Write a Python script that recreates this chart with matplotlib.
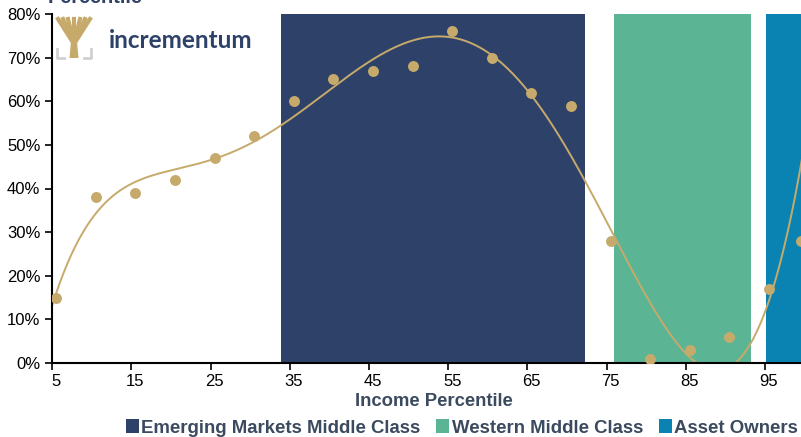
import numpy as np
import matplotlib.pyplot as plt
from matplotlib.patches import Patch, Polygon
from matplotlib.lines import Line2D

plt.rcParams['font.family'] = ['Liberation Sans', 'DejaVu Sans']

percentile = [5, 10, 15, 20, 25, 30, 35, 40, 45, 50, 55, 60, 65, 70, 75, 80, 85, 90, 95, 99]
growth = [15, 38, 39, 42, 47, 52, 60, 65, 67, 68, 76, 70, 62, 59, 28, 1, 3, 6, 17, 28]
# top 1% point lies just beyond the cropped right edge
top_percentile = 100
top_growth = 68

bands = ["Emerging Markets Middle Class", "Western Middle Class", "Asset Owners"]
band_start = [33.4, 75.4, 94.6]
band_end = [71.8, 92.7, 101]
band_colors = ["#2E4169", "#5BB595", "#0A83B3"]

tick_labels = [5, 15, 25, 35, 45, 55, 65, 75, 85, 95]

gold = "#C6AA6B"
navy = "#2E4169"
label_col = "#3B4A5E"

fig = plt.figure(figsize=(8.01, 4.37), dpi=100)
ax = fig.add_axes([52.3 / 801, 1 - 363 / 437, 1 - 52.3 / 801, (363 - 14) / 437])

for s, e, c in zip(band_start, band_end, band_colors):
    ax.axvspan(s, e, color=c, lw=0, zorder=0)

# polynomial trendline (order 6)
x_all = np.array(percentile + [top_percentile], float)
y_all = np.array(growth + [top_growth], float)
trend = np.polynomial.Polynomial.fit(x_all, y_all, 6)
xs = np.linspace(4.5, 100, 400)
ax.plot(xs, trend(xs), color=gold, lw=1.4, zorder=2)

ax.scatter(x_all, y_all, s=62, color=gold, zorder=3, lw=0)

ax.set_xlim(4.5, 99.05)
ax.set_ylim(0, 80)
ax.set_yticks(range(0, 81, 10))
ax.set_yticklabels([f"{v}%" for v in range(0, 81, 10)], fontsize=12)
ax.set_xticks([t - 0.5 for t in tick_labels])
ax.set_xticklabels([])
ax.set_xticks(tick_labels, minor=True)
ax.set_xticklabels([str(t) for t in tick_labels], minor=True, fontsize=12)
ax.tick_params(axis='x', which='minor', length=0, pad=8)
ax.tick_params(axis='both', which='major', length=5, width=1.2, color='black')
for side in ['top', 'right']:
    ax.spines[side].set_visible(False)
for side in ['left', 'bottom']:
    ax.spines[side].set_linewidth(1.5)

fig.text(434 / 801, 1 - 402 / 437, "Income Percentile", ha='center', va='center',
         fontsize=13.3, fontweight='bold', color=label_col)
fig.text(48 / 801, 1 - 3 / 437, "Percentile", ha='left', va='baseline',
         fontsize=14.3, fontweight='bold', color=navy)

handles = [Patch(facecolor=c, edgecolor='none') for c in band_colors]
fig.legend(handles, bands, loc='center', bbox_to_anchor=(462 / 801, 1 - 428 / 437),
           ncol=3, frameon=False, handlelength=0.7, handleheight=0.7,
           handletextpad=0.12, columnspacing=0.85, borderpad=0,
           prop={'size': 13.4, 'weight': 'bold'}, labelcolor=label_col)

# logo
def fx(px):
    return px / 801


def fy(py):
    return 1 - py / 437


for tx in [58, 63, 68, 74, 80, 85, 90]:
    fig.add_artist(Line2D([fx(74), fx(tx)], [fy(44), fy(19)], color=gold, lw=3))
fig.add_artist(Polygon([(fx(69.5), fy(58)), (fx(78.5), fy(58)), (fx(76.5), fy(36)), (fx(71.5), fy(36))],
                       closed=True, facecolor=gold, edgecolor='none', transform=fig.transFigure))
fig.add_artist(Line2D([fx(57), fx(57), fx(64)], [fy(49), fy(58), fy(58)], color="#D0D0D0", lw=2))
fig.add_artist(Line2D([fx(91), fx(91), fx(84)], [fy(49), fy(58), fy(58)], color="#D0D0D0", lw=2))
fig.text(fx(109), fy(40), "incrementum", ha='left', va='center', fontsize=17.5,
         fontfamily='Lato', fontweight='bold', color=navy)

fig.savefig("out.png", dpi=100)
